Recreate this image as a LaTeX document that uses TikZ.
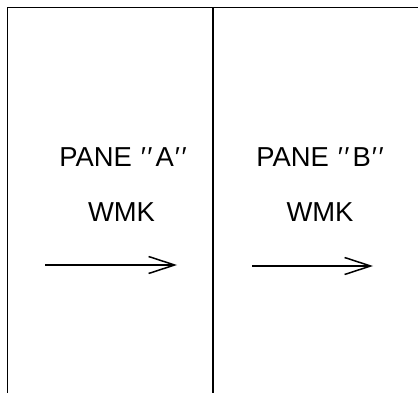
\documentclass[tikz,border=0pt]{standalone}
\usepackage{fontspec}
\setmainfont{Liberation Sans}
\usetikzlibrary{arrows.meta}
\newcommand{\qq}{′\kern1.5pt′}
\begin{document}
\begin{tikzpicture}[x=1pt,y=-1pt,
  frame/.style={line width=1.4pt,black},
  label/.style={anchor=base,inner sep=0pt,font=\fontsize{27.4}{30}\selectfont},
  flow/.style={line width=1.5pt,-{Straight Barb[length=26pt,width=17pt,line width=1.5pt]}}]
\useasboundingbox (0,0) rectangle (418,393);
% frame lines
\draw[frame] (7.5,393) -- (7.5,7.5) -- (418,7.5);
\draw[frame] (213,7.5) -- (213,393);
% texts
\node[label] (paneA) at (123,167) {PANE\kern9pt\qq\kern3pt A\kern1pt\qq};
\node[label] (wmkA) at (121.5,222) {WMK};
\node[label] (paneB) at (320,167) {PANE\kern9pt\qq\kern3pt B\kern1pt\qq};
\node[label] (wmkB) at (320,222) {WMK};
% arrows
\coordinate (a1) at (45,265);
\coordinate (a2) at (177,265);
\coordinate (b1) at (252,266);
\coordinate (b2) at (373,266);
\draw[flow] (a1) -- (a2);
\draw[flow] (b1) -- (b2);
\end{tikzpicture}
\end{document}
